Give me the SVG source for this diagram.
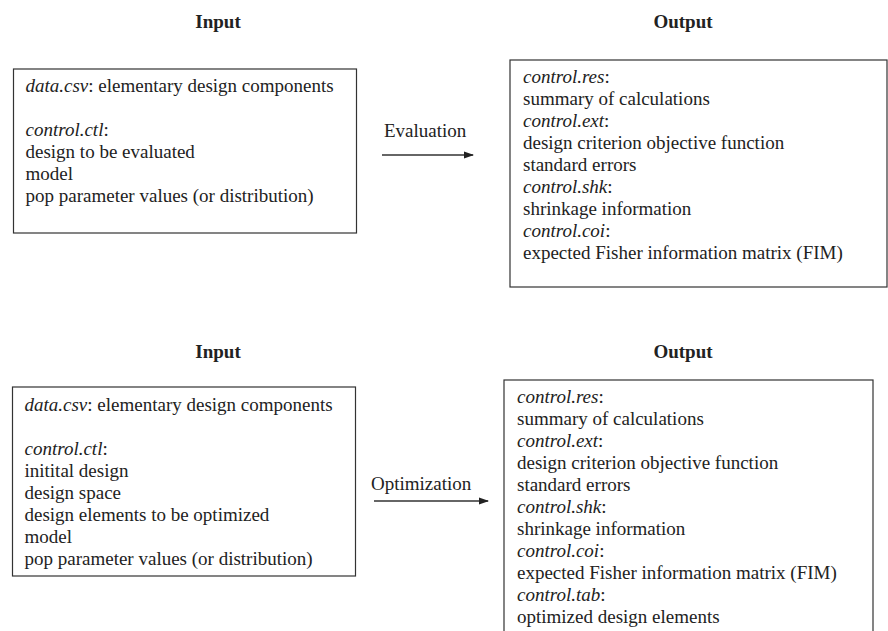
<svg xmlns="http://www.w3.org/2000/svg" width="888" height="631" viewBox="0 0 888 631">
<style>
text{font-family:"Liberation Serif","Times New Roman",serif;font-size:19px;fill:#222}
.h{font-weight:bold;font-size:19px;text-anchor:middle}
.i{font-style:italic}
.box{fill:#fff;stroke:#333;stroke-width:1.2}
.c{stroke:#333;stroke-width:1.5;fill:none}
</style>
<defs>
<marker id="ah" markerWidth="10" markerHeight="8" refX="9" refY="4" orient="auto" markerUnits="userSpaceOnUse">
<path d="M0,0.5 L10,4 L0,7.5 Z" fill="#222"/>
</marker>
</defs>
<rect width="888" height="631" fill="#fff"/>
<text class="h" x="218" y="28">Input</text>
<text class="h" x="683" y="28">Output</text>
<text class="h" x="218" y="358">Input</text>
<text class="h" x="683" y="358">Output</text>
<g id="in1">
<rect class="box" x="13.5" y="69" width="343" height="164"/>
<text x="25.5" y="92"><tspan class="i">data.csv</tspan>: elementary design components</text>
<text x="25.5" y="136"><tspan class="i">control.ctl</tspan>:</text>
<text x="25.5" y="158">design to be evaluated</text>
<text x="25.5" y="180">model</text>
<text x="25.5" y="202">pop parameter values (or distribution)</text>
</g>
<g id="out1">
<rect class="box" x="510" y="60" width="377" height="227"/>
<text x="523" y="83"><tspan class="i">control.res</tspan>:</text>
<text x="523" y="105">summary of calculations</text>
<text x="523" y="127"><tspan class="i">control.ext</tspan>:</text>
<text x="523" y="149">design criterion objective function</text>
<text x="523" y="171">standard errors</text>
<text x="523" y="193"><tspan class="i">control.shk</tspan>:</text>
<text x="523" y="215">shrinkage information</text>
<text x="523" y="237"><tspan class="i">control.coi</tspan>:</text>
<text x="523" y="259">expected Fisher information matrix (FIM)</text>
</g>
<g id="in2">
<rect class="box" x="12.5" y="387" width="343" height="189"/>
<text x="24.5" y="411"><tspan class="i">data.csv</tspan>: elementary design components</text>
<text x="24.5" y="455"><tspan class="i">control.ctl</tspan>:</text>
<text x="24.5" y="477">initital design</text>
<text x="24.5" y="499">design space</text>
<text x="24.5" y="521">design elements to be optimized</text>
<text x="24.5" y="543">model</text>
<text x="24.5" y="565">pop parameter values (or distribution)</text>
</g>
<g id="out2">
<rect class="box" x="504" y="380" width="369" height="260"/>
<text x="517" y="403"><tspan class="i">control.res</tspan>:</text>
<text x="517" y="425">summary of calculations</text>
<text x="517" y="447"><tspan class="i">control.ext</tspan>:</text>
<text x="517" y="469">design criterion objective function</text>
<text x="517" y="491">standard errors</text>
<text x="517" y="513"><tspan class="i">control.shk</tspan>:</text>
<text x="517" y="535">shrinkage information</text>
<text x="517" y="557"><tspan class="i">control.coi</tspan>:</text>
<text x="517" y="579">expected Fisher information matrix (FIM)</text>
<text x="517" y="601"><tspan class="i">control.tab</tspan>:</text>
<text x="517" y="623">optimized design elements</text>
</g>
<g id="connectors">
<line class="c" x1="382" y1="155" x2="473" y2="155" marker-end="url(#ah)"/>
<text x="384" y="137">Evaluation</text>
<line class="c" x1="374" y1="501" x2="488" y2="501" marker-end="url(#ah)"/>
<text x="371" y="490">Optimization</text>
</g>
</svg>
